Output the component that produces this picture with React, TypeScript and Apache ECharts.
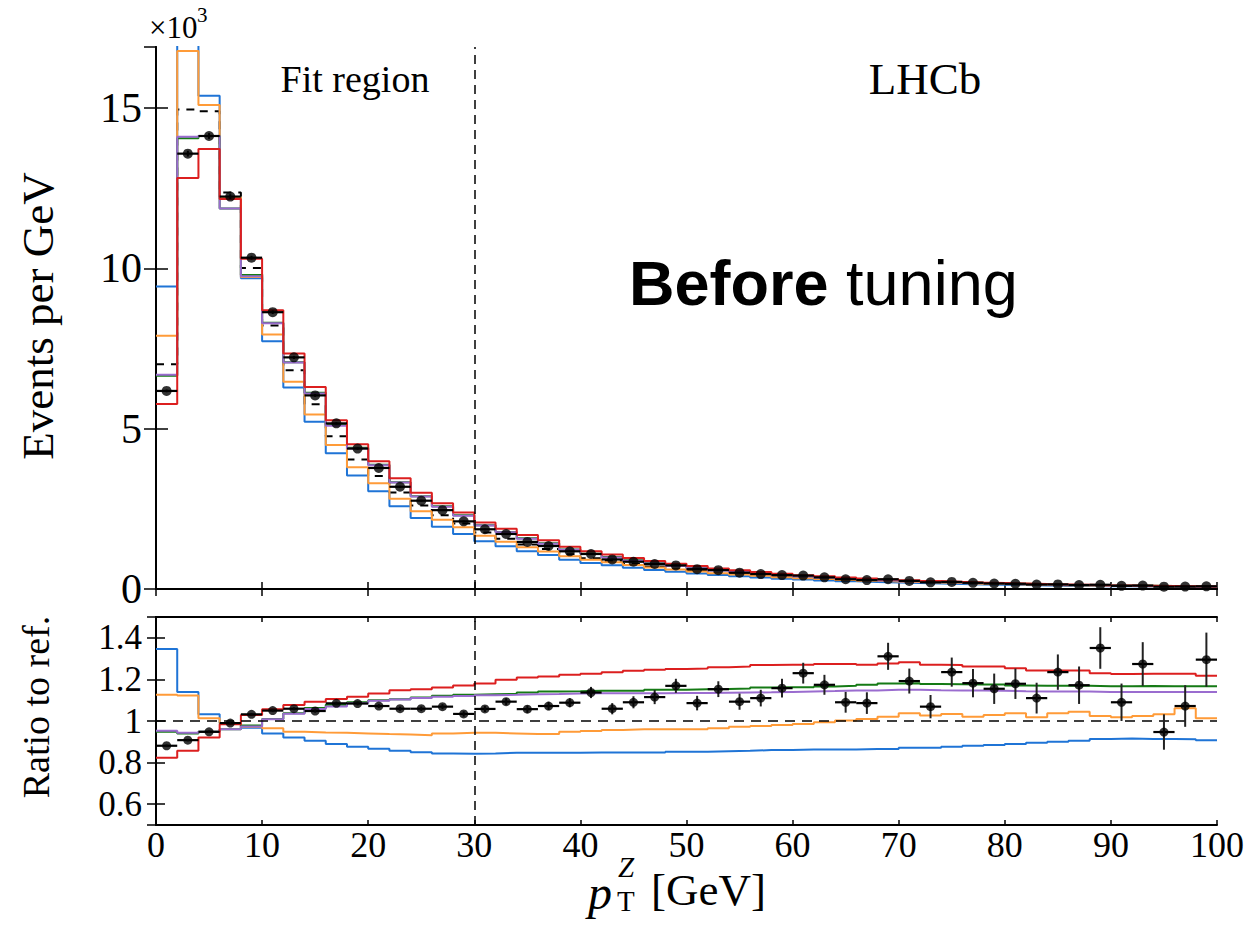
import React, { useEffect, useRef } from "react";
import * as echarts from "echarts";

// 2 GeV bins from 0 to 100 GeV (lower edges)
const binLowEdges = [
  0, 2, 4, 6, 8, 10, 12, 14, 16, 18, 20, 22, 24, 26, 28, 30, 32, 34, 36, 38,
  40, 42, 44, 46, 48, 50, 52, 54, 56, 58, 60, 62, 64, 66, 68, 70, 72, 74, 76, 78,
  80, 82, 84, 86, 88, 90, 92, 94, 96, 98,
];
const BIN_WIDTH = 2;
const X_MAX = 100;

// Reference prediction, events per GeV (x10^3)
const refEvents = [
  7.01, 14.95, 14.9, 12.36, 10.01, 8.22, 6.82, 5.76, 4.76, 4.04,
  3.52, 3.01, 2.6, 2.3, 2.04, 1.76, 1.57, 1.39, 1.25, 1.08,
  0.96, 0.87, 0.78, 0.7, 0.63, 0.57, 0.51, 0.465, 0.42, 0.375,
  0.34, 0.31, 0.28, 0.255, 0.232, 0.212, 0.195, 0.178, 0.163, 0.149,
  0.137, 0.126, 0.116, 0.107, 0.098, 0.091, 0.084, 0.077, 0.071, 0.065,
];

// Ratios to the reference prediction
const dataRatio = [
  0.881, 0.908, 0.948, 0.99, 1.032, 1.05, 1.059, 1.048, 1.085, 1.084,
  1.072, 1.059, 1.059, 1.069, 1.034, 1.058, 1.093, 1.057, 1.072, 1.088,
  1.137, 1.059, 1.09, 1.115, 1.169, 1.086, 1.153, 1.093, 1.11, 1.158,
  1.23, 1.174, 1.09, 1.086, 1.311, 1.192, 1.069, 1.235, 1.182, 1.155,
  1.179, 1.11, 1.235, 1.172, 1.351, 1.09, 1.274, 0.947, 1.072, 1.295,
];
const dataRatioErr = [
  0.006, 0.006, 0.006, 0.006, 0.006, 0.007, 0.007, 0.008, 0.008, 0.009,
  0.009, 0.01, 0.011, 0.012, 0.013, 0.015, 0.016, 0.018, 0.02, 0.022,
  0.027, 0.027, 0.029, 0.034, 0.034, 0.035, 0.038, 0.039, 0.04, 0.045,
  0.05, 0.048, 0.05, 0.052, 0.065, 0.06, 0.056, 0.07, 0.068, 0.073,
  0.073, 0.074, 0.085, 0.09, 0.1, 0.09, 0.105, 0.085, 0.1, 0.13,
];
const blueRatio = [
  1.346, 1.139, 1.032, 0.989, 0.968, 0.94, 0.921, 0.905, 0.889, 0.876,
  0.866, 0.857, 0.85, 0.844, 0.842, 0.844, 0.847, 0.847, 0.847, 0.847,
  0.848, 0.848, 0.848, 0.848, 0.852, 0.852, 0.855, 0.857, 0.86, 0.86,
  0.863, 0.863, 0.863, 0.865, 0.865, 0.871, 0.871, 0.876, 0.881, 0.885,
  0.889, 0.895, 0.9, 0.905, 0.914, 0.916, 0.914, 0.913, 0.912, 0.908,
];
const orangeRatio = [
  1.126, 1.122, 1.013, 0.989, 0.972, 0.965, 0.948, 0.945, 0.943, 0.94,
  0.937, 0.935, 0.932, 0.94, 0.943, 0.943, 0.94, 0.937, 0.937, 0.948,
  0.952, 0.957, 0.96, 0.96, 0.96, 0.96, 0.965, 0.972, 0.976, 0.981,
  0.986, 0.994, 1.002, 1.01, 1.021, 1.037, 1.026, 1.034, 1.021, 1.029,
  1.037, 1.018, 1.037, 1.045, 1.024, 1.018, 1.024, 1.032, 1.061, 1.013,
];
const greenRatio = [
  0.948, 0.94, 0.948, 0.96, 0.978, 1.01, 1.037, 1.062, 1.078, 1.09,
  1.1, 1.105, 1.113, 1.121, 1.126, 1.129, 1.131, 1.137, 1.142, 1.143,
  1.145, 1.146, 1.146, 1.15, 1.15, 1.153, 1.154, 1.156, 1.161, 1.162,
  1.162, 1.166, 1.169, 1.174, 1.18, 1.182, 1.178, 1.177, 1.176, 1.176,
  1.171, 1.169, 1.169, 1.169, 1.167, 1.167, 1.168, 1.167, 1.167, 1.167,
];
const purpleRatio = [
  0.953, 0.943, 0.948, 0.96, 0.974, 1.008, 1.035, 1.058, 1.07, 1.085,
  1.097, 1.103, 1.11, 1.116, 1.12, 1.124, 1.126, 1.129, 1.13, 1.132,
  1.133, 1.133, 1.134, 1.134, 1.135, 1.135, 1.136, 1.137, 1.138, 1.14,
  1.142, 1.144, 1.147, 1.147, 1.15, 1.15, 1.148, 1.147, 1.147, 1.146,
  1.143, 1.142, 1.142, 1.142, 1.14, 1.139, 1.139, 1.139, 1.139, 1.139,
];
const redRatio = [
  0.823, 0.857, 0.921, 0.984, 1.029, 1.057, 1.077, 1.093, 1.106, 1.117,
  1.132, 1.148, 1.153, 1.161, 1.171, 1.18, 1.198, 1.209, 1.214, 1.222,
  1.227, 1.234, 1.242, 1.246, 1.25, 1.253, 1.259, 1.262, 1.269, 1.27,
  1.27, 1.274, 1.274, 1.27, 1.276, 1.282, 1.27, 1.269, 1.262, 1.262,
  1.254, 1.243, 1.243, 1.243, 1.23, 1.226, 1.227, 1.227, 1.227, 1.217,
];

const yTicksTop = [0, 5, 10, 15];
const xTicks = [0, 10, 20, 30, 40, 50, 60, 70, 80, 90, 100];
const FIT_EDGE = 30;

const COLORS = {
  blue: "#1f74d6",
  orange: "#ff9b38",
  green: "#157a15",
  purple: "#9a6ccf",
  red: "#dc1f1f",
};

const SERIF = "'Liberation Serif', 'Times New Roman', serif";
const SANS = "'Liberation Sans', Arial, sans-serif";

// Step histogram points: one point per lower edge plus the closing edge
function stepPoints(values: number[]): number[][] {
  const pts = values.map((v, i) => [binLowEdges[i], v]);
  pts.push([X_MAX, values[values.length - 1]]);
  return pts;
}

const scaled = (ratio: number[]) => ratio.map((r, i) => r * refEvents[i]);

const GRID_LEFT = 156;
const GRID_W = 1061;
const TOP_Y = 47;
const TOP_H = 542;
const BOT_Y = 617;
const BOT_H = 208;

function errorBarSeries(
  values: number[],
  errs: number[],
  xAxisIndex: number,
  yAxisIndex: number,
  vColor: string
) {
  return {
    type: "custom",
    xAxisIndex,
    yAxisIndex,
    z: 5,
    clip: true,
    data: values.map((v, i) => [binLowEdges[i] + BIN_WIDTH / 2, v, errs[i]]),
    encode: { x: 0, y: 1 },
    renderItem: (_params: any, api: any) => {
      const xc = api.value(0);
      const y = api.value(1);
      const e = api.value(2);
      const pl = api.coord([xc - BIN_WIDTH / 2, y]);
      const pr = api.coord([xc + BIN_WIDTH / 2, y]);
      const pt = api.coord([xc, y + e]);
      const pb = api.coord([xc, y - e]);
      return {
        type: "group",
        children: [
          {
            type: "line",
            shape: { x1: pl[0], y1: pl[1], x2: pr[0], y2: pr[1] },
            style: { stroke: "#000", lineWidth: 2.2 },
          },
          {
            type: "line",
            shape: { x1: pt[0], y1: pt[1], x2: pb[0], y2: pb[1] },
            style: { stroke: vColor, lineWidth: 2 },
          },
        ],
      };
    },
  };
}

function histSeries(
  name: string,
  values: number[],
  color: string,
  xAxisIndex: number,
  yAxisIndex: number,
  z: number,
  dashed = false
) {
  return {
    name,
    type: "line",
    step: "end",
    xAxisIndex,
    yAxisIndex,
    symbol: "none",
    z,
    clip: true,
    data: stepPoints(values),
    lineStyle: { color, width: 2, type: dashed ? [8, 7] : "solid" },
  };
}

export default function App() {
  const ref = useRef<HTMLDivElement>(null);

  useEffect(() => {
    if (!ref.current) return;
    const chart = echarts.init(ref.current, undefined, { renderer: "svg" });

    const axisLine = { show: true, lineStyle: { color: "#000", width: 2 } };
    const xBase = {
      type: "value",
      min: 0,
      max: X_MAX,
      interval: 10,
      splitLine: { show: false },
      axisLine,
    };

    const dataTop = dataRatio.map((r, i) => r * refEvents[i]);
    const dataTopErr = dataRatioErr.map((e, i) => e * refEvents[i]);

    const option = {
      animation: false,
      backgroundColor: "#fff",
      grid: [
        { left: GRID_LEFT, top: TOP_Y, width: GRID_W, height: TOP_H },
        { left: GRID_LEFT, top: BOT_Y, width: GRID_W, height: BOT_H },
      ],
      xAxis: [
        {
          ...xBase,
          gridIndex: 0,
          position: "bottom",
          axisTick: { inside: true, length: 7, lineStyle: { color: "#000", width: 1.5 } },
          axisLabel: { show: false },
        },
        {
          ...xBase,
          gridIndex: 0,
          position: "top",
          axisTick: { inside: true, length: 7, lineStyle: { color: "#000", width: 1.5 } },
          axisLabel: { show: false },
        },
        {
          ...xBase,
          gridIndex: 1,
          position: "bottom",
          axisTick: { inside: true, length: 5, lineStyle: { color: "#000", width: 1.5 } },
          axisLabel: {
            show: true,
            color: "#000",
            fontFamily: SERIF,
            fontSize: 36,
            lineHeight: 34,
            margin: 3,
            formatter: (v: number) => (xTicks.includes(v) ? String(v) : ""),
          },
        },
        {
          ...xBase,
          gridIndex: 1,
          position: "top",
          axisTick: { inside: true, length: 5, lineStyle: { color: "#000", width: 1.5 } },
          axisLabel: { show: false },
        },
      ],
      yAxis: [
        {
          type: "value",
          gridIndex: 0,
          position: "left",
          min: 0,
          max: 16.9,
          interval: 5,
          splitLine: { show: false },
          axisLine,
          axisTick: { inside: true, length: 12, lineStyle: { color: "#000", width: 1.5 } },
          axisLabel: {
            color: "#000",
            fontFamily: SERIF,
            fontSize: 42,
            margin: 14,
            showMaxLabel: false,
            formatter: (v: number) => (yTicksTop.includes(v) ? String(v) : ""),
          },
        },
        {
          type: "value",
          gridIndex: 0,
          position: "right",
          min: 0,
          max: 16.9,
          interval: 5,
          splitLine: { show: false },
          axisLine,
          axisTick: { inside: true, length: 12, lineStyle: { color: "#000", width: 1.5 } },
          axisLabel: { show: false },
        },
        {
          type: "value",
          gridIndex: 1,
          position: "left",
          min: 0.5,
          max: 1.5,
          splitNumber: 5,
          splitLine: { show: false },
          axisLine,
          axisTick: { inside: true, length: 9, lineStyle: { color: "#000", width: 1.5 } },
          axisLabel: {
            color: "#000",
            fontFamily: SERIF,
            fontSize: 35,
            margin: 14,
            showMinLabel: false,
            showMaxLabel: false,
          },
        },
        {
          type: "value",
          gridIndex: 1,
          position: "right",
          min: 0.5,
          max: 1.5,
          splitNumber: 5,
          splitLine: { show: false },
          axisLine,
          axisTick: { inside: true, length: 9, lineStyle: { color: "#000", width: 1.5 } },
          axisLabel: { show: false },
        },
      ],
      series: [
        {
          ...histSeries("Reference", refEvents, "#000", 0, 0, 2, true),
          markLine: {
            silent: true,
            symbol: "none",
            label: { show: false },
            lineStyle: { color: "#000", width: 1.5, type: [9, 6] },
            data: [{ xAxis: FIT_EDGE }],
          },
        },
        histSeries("Blue", scaled(blueRatio), COLORS.blue, 0, 0, 2),
        histSeries("Orange", scaled(orangeRatio), COLORS.orange, 0, 0, 2),
        histSeries("Green", scaled(greenRatio), COLORS.green, 0, 0, 2),
        histSeries("Purple", scaled(purpleRatio), COLORS.purple, 0, 0, 2),
        histSeries("Red", scaled(redRatio), COLORS.red, 0, 0, 2),
        errorBarSeries(dataTop, dataTopErr, 0, 0, "#000"),
        {
          type: "scatter",
          xAxisIndex: 0,
          yAxisIndex: 0,
          z: 6,
          symbol: "circle",
          symbolSize: 10,
          itemStyle: { color: "#000" },
          data: dataTop.map((v, i) => [binLowEdges[i] + BIN_WIDTH / 2, v]),
        },

        // ratio panel
        {
          type: "line",
          xAxisIndex: 2,
          yAxisIndex: 2,
          symbol: "none",
          z: 1,
          data: [],
          markLine: {
            silent: true,
            symbol: "none",
            label: { show: false },
            data: [
              { yAxis: 1, lineStyle: { color: "#000", width: 1.5, type: [10, 7] } },
              { xAxis: FIT_EDGE, lineStyle: { color: "#000", width: 1.5, type: [9, 6] } },
            ],
          },
        },
        histSeries("Blue ratio", blueRatio, COLORS.blue, 2, 2, 2),
        histSeries("Orange ratio", orangeRatio, COLORS.orange, 2, 2, 2),
        histSeries("Green ratio", greenRatio, COLORS.green, 2, 2, 2),
        histSeries("Purple ratio", purpleRatio, COLORS.purple, 2, 2, 2),
        histSeries("Red ratio", redRatio, COLORS.red, 2, 2, 2),
        errorBarSeries(dataRatio, dataRatioErr, 2, 2, "#222"),
        {
          type: "scatter",
          xAxisIndex: 2,
          yAxisIndex: 2,
          z: 6,
          symbol: "circle",
          symbolSize: 9,
          itemStyle: { color: "#000" },
          data: dataRatio.map((v, i) => [binLowEdges[i] + BIN_WIDTH / 2, v]),
        },
      ],
      graphic: [
        {
          type: "text",
          left: 149,
          top: 12,
          style: { text: "×10", font: `31px ${SERIF}`, fill: "#000" },
        },
        {
          type: "text",
          left: 197,
          top: 4,
          style: { text: "3", font: `21px ${SERIF}`, fill: "#000" },
        },
        {
          type: "text",
          x: 355,
          y: 79,
          style: {
            text: "Fit region",
            font: `38px ${SERIF}`,
            fill: "#000",
            align: "center",
            verticalAlign: "middle",
          },
        },
        {
          type: "text",
          x: 925,
          y: 79,
          style: {
            text: "LHCb",
            font: `45px ${SERIF}`,
            fill: "#000",
            align: "center",
            verticalAlign: "middle",
          },
        },
        {
          type: "text",
          x: 629,
          y: 283,
          style: {
            text: "{b|Before}{n| tuning}",
            fill: "#000",
            verticalAlign: "middle",
            rich: {
              b: { font: `bold 63px ${SANS}`, fill: "#000" },
              n: { font: `63px ${SANS}`, fill: "#000" },
            },
          },
        },
        {
          type: "text",
          x: 38,
          y: 316,
          rotation: Math.PI / 2,
          style: {
            text: "Events per GeV",
            font: `45px ${SERIF}`,
            fill: "#000",
            align: "center",
            verticalAlign: "middle",
          },
        },
        {
          type: "text",
          x: 36,
          y: 707,
          rotation: Math.PI / 2,
          style: {
            text: "Ratio to ref.",
            font: `38px ${SERIF}`,
            fill: "#000",
            align: "center",
            verticalAlign: "middle",
          },
        },
        {
          type: "text",
          x: 588,
          y: 892,
          style: {
            text: "p",
            font: `italic 48px ${SERIF}`,
            fill: "#000",
            verticalAlign: "middle",
          },
        },
        {
          type: "text",
          x: 618,
          y: 867,
          style: {
            text: "Z",
            font: `italic 29px ${SERIF}`,
            fill: "#000",
            verticalAlign: "middle",
          },
        },
        {
          type: "text",
          x: 617,
          y: 901,
          style: {
            text: "T",
            font: `29px ${SERIF}`,
            fill: "#000",
            verticalAlign: "middle",
          },
        },
        {
          type: "text",
          x: 651,
          y: 890,
          style: {
            text: "[GeV]",
            font: `45px ${SERIF}`,
            fill: "#000",
            verticalAlign: "middle",
          },
        },
      ],
    };

    chart.setOption(option as any);
    return () => chart.dispose();
  }, []);

  return (
    <div
      ref={ref}
      style={{ position: "fixed", left: 0, top: 0, width: 1258, height: 933 }}
    />
  );
}
